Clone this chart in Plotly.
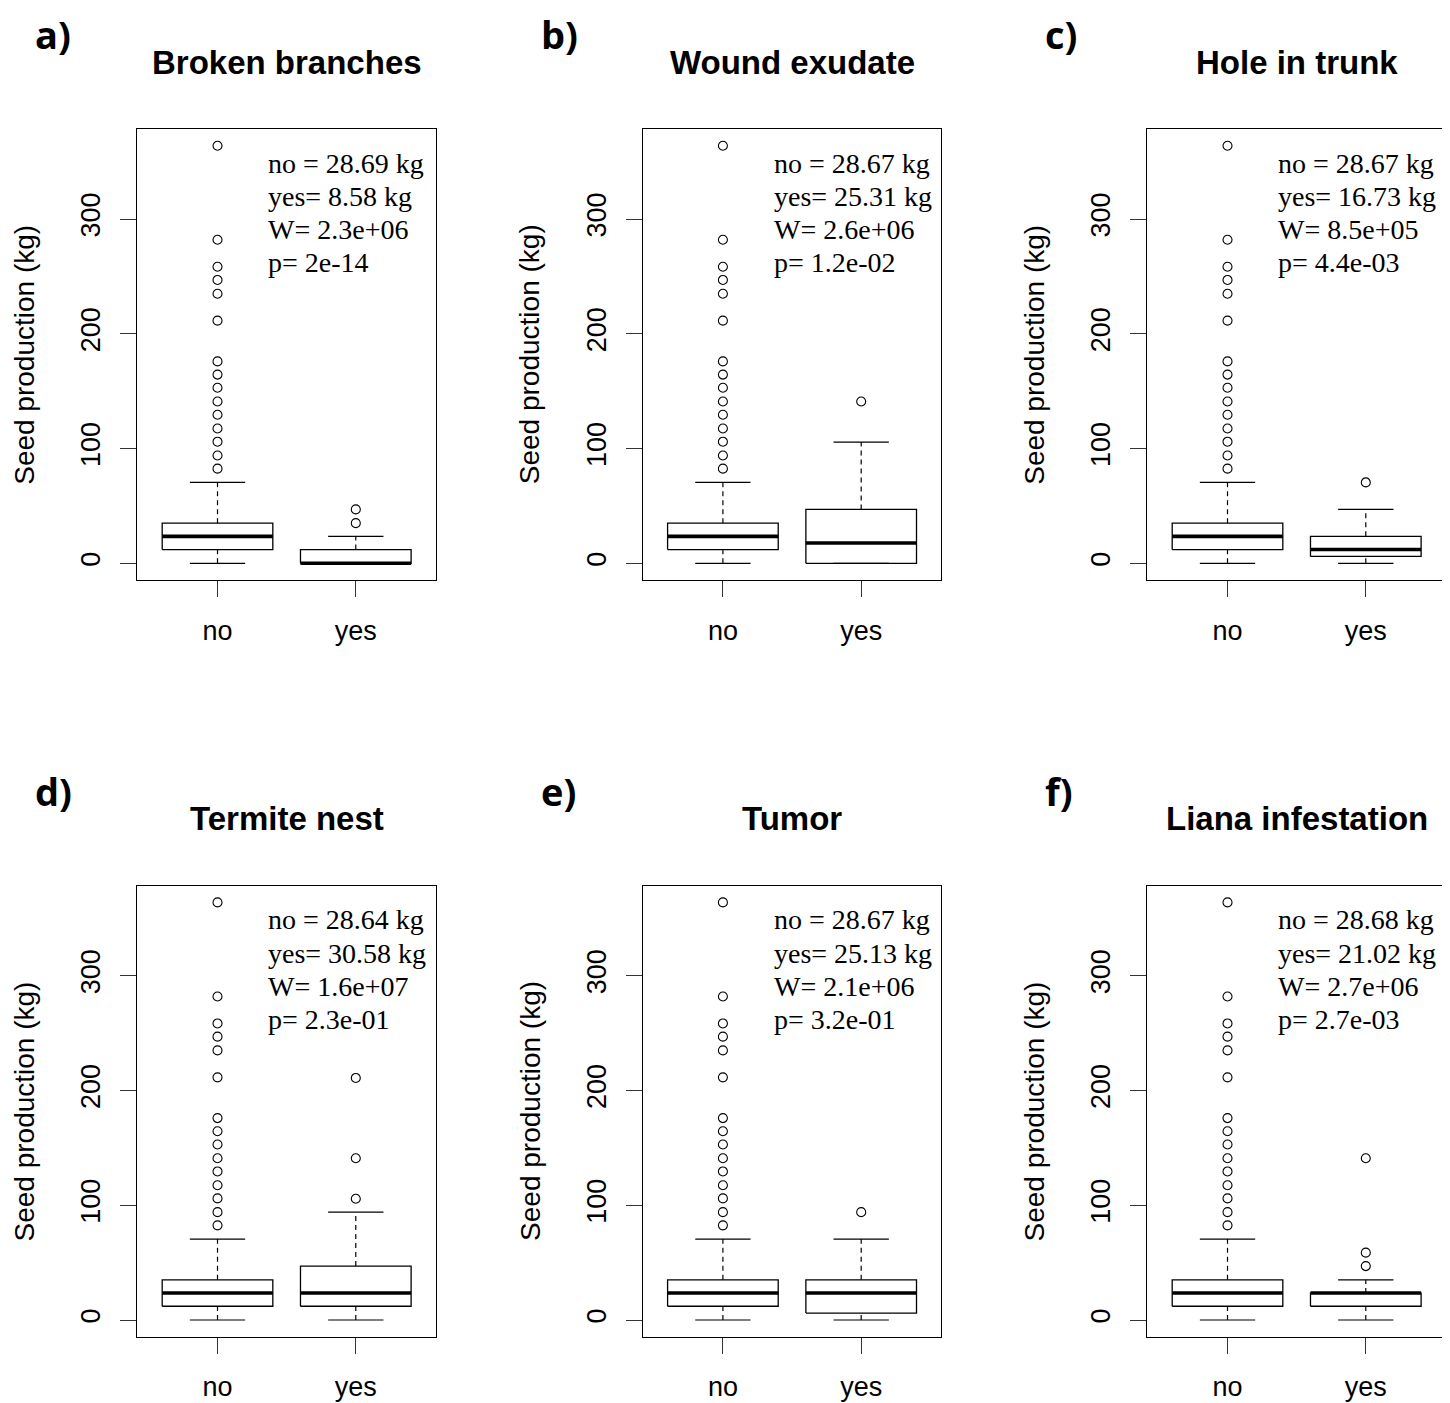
import plotly.graph_objects as go
from plotly.subplots import make_subplots

# ---------------- data ----------------
titles = ["Broken branches", "Wound exudate", "Hole in trunk",
          "Termite nest", "Tumor", "Liana infestation"]
letters = ["a)", "b)", "c)", "d)", "e)", "f)"]
groups = ["no", "yes"]

# "no" group (trees without the defect)
no_lower = [0, 0, 0, 0, 0, 0]
no_q1 = [12, 12, 12, 12, 12, 12]
no_median = [23.5, 23.5, 23.5, 23.5, 23.5, 23.5]
no_q3 = [35, 35, 35, 35, 35, 35]
no_upper = [70.5, 70.5, 70.5, 70.5, 70.5, 70.5]
no_outliers = [364, 282, 258.5, 247, 235, 211.5, 176, 164.5, 153,
               141, 129.5, 117.5, 106, 94, 82.5]

# "yes" group (trees with the defect)
yes_lower = [0, 0, 0, 0, 0, 0]
yes_q1 = [0, 0, 6, 12, 6, 12]
yes_median = [0, 17.7, 12, 23.5, 23.5, 23.5]
yes_q3 = [12, 47, 23.5, 47, 35, 23.5]
yes_upper = [23.5, 105.7, 47, 94, 70.5, 35]
yes_outliers = [[35, 47], [141], [70.5], [105.7, 141, 211],
                [94], [47, 58.7, 141]]

# statistics printed in each panel
mean_no = ["28.69", "28.67", "28.67", "28.64", "28.67", "28.68"]
mean_yes = ["8.58", "25.31", "16.73", "30.58", "25.13", "21.02"]
stat_W = ["2.3e+06", "2.6e+06", "8.5e+05", "1.6e+07", "2.1e+06", "2.7e+06"]
stat_p = ["2e-14", "1.2e-02", "4.4e-03", "2.3e-01", "3.2e-01", "2.7e-03"]

# ---------------- layout constants ----------------
W, H = 1450, 1403
OFF = 8                              # page margin of the html body
PLOT_W, PLOT_H = 298.7, 451.0        # pixel size of each panel frame
col_left = [137.3, 642.7, 1147.3]    # frame left edges (screen px)
row_top = [129.0, 885.7]             # frame top edges (screen px)
col_domains = [((l - OFF) / W, (l - OFF + PLOT_W) / W) for l in col_left]
row_domains = [(1 - (t - OFF + PLOT_H) / H, 1 - (t - OFF) / H) for t in row_top]

BOXW = 0.8      # R boxwex
CAPW = 0.4      # staple width
SANS = "Liberation Sans, Arial, sans-serif"
SERIF = "Liberation Serif, Times New Roman, serif"
BLACK = "#000000"

fig = make_subplots(rows=2, cols=3)


def box_traces(pos, lo, q1, med, q3, up, outs, row, col):
    h = BOXW / 2
    c = CAPW / 2
    # box outline
    fig.add_trace(go.Scatter(
        x=[pos - h, pos + h, pos + h, pos - h, pos - h],
        y=[q1, q1, q3, q3, q1], mode="lines",
        line=dict(color=BLACK, width=1.3), hoverinfo="skip",
        showlegend=False), row=row, col=col)
    # dashed whiskers
    fig.add_trace(go.Scatter(
        x=[pos, pos, None, pos, pos], y=[q3, up, None, lo, q1],
        mode="lines", line=dict(color=BLACK, width=1.2, dash="5px,4px"),
        hoverinfo="skip", showlegend=False), row=row, col=col)
    # staples
    fig.add_trace(go.Scatter(
        x=[pos - c, pos + c, None, pos - c, pos + c],
        y=[up, up, None, lo, lo], mode="lines",
        line=dict(color=BLACK, width=1.2), hoverinfo="skip",
        showlegend=False), row=row, col=col)
    # median
    fig.add_trace(go.Scatter(
        x=[pos - h, pos + h], y=[med, med], mode="lines",
        line=dict(color=BLACK, width=3.6), hoverinfo="skip",
        showlegend=False), row=row, col=col)
    # outliers
    if outs:
        fig.add_trace(go.Scatter(
            x=[pos] * len(outs), y=outs, mode="markers",
            marker=dict(symbol="circle-open", size=9,
                        color=BLACK, line=dict(width=1.1, color=BLACK)),
            hoverinfo="y", showlegend=False), row=row, col=col)


annotations = []
for i in range(6):
    r, cidx = i // 3, i % 3
    row, col = r + 1, cidx + 1
    box_traces(1, no_lower[i], no_q1[i], no_median[i], no_q3[i],
               no_upper[i], no_outliers, row, col)
    box_traces(2, yes_lower[i], yes_q1[i], yes_median[i], yes_q3[i],
               yes_upper[i], yes_outliers[i], row, col)

    all_vals = (no_outliers + yes_outliers[i] +
                [no_lower[i], yes_lower[i], no_upper[i], yes_upper[i]])
    lo, hi = min(all_vals), max(all_vals)
    span = hi - lo
    yr = [lo - 0.04 * span, hi + 0.04 * span]

    axn = "" if i == 0 else str(i + 1)
    fig.layout["xaxis" + axn].update(
        domain=col_domains[cidx], range=[0.42, 2.58],
        tickmode="array", tickvals=[1, 2], ticktext=groups,
        ticks="outside", ticklen=16, tickwidth=1, tickcolor="#333333",
        showline=True, mirror=True, linecolor=BLACK, linewidth=1.3,
        showgrid=False, zeroline=False,
        tickfont=dict(family=SANS, size=27, color=BLACK),
        ticklabelstandoff=10, fixedrange=True)
    fig.layout["yaxis" + axn].update(
        domain=row_domains[r], range=yr,
        tickmode="array", tickvals=[0, 100, 200, 300],
        ticks="outside", ticklen=16, tickwidth=1, tickcolor="#333333",
        tickangle=-90,
        showline=True, mirror=True, linecolor=BLACK, linewidth=1.3,
        showgrid=False, zeroline=False,
        tickfont=dict(family=SANS, size=27, color=BLACK),
        ticklabelstandoff=9, fixedrange=True)

    xd = "x" + axn + " domain"
    yd = "y" + axn + " domain"
    # panel title
    annotations.append(dict(
        text="<b>" + titles[i] + "</b>", xref=xd, yref=yd, x=0.5, y=1,
        xanchor="center", yanchor="middle", yshift=67, showarrow=False,
        font=dict(family=SANS, size=33, color=BLACK)))
    # panel letter
    annotations.append(dict(
        text="<b>" + letters[i] + "</b>", xref=xd, yref=yd, x=0, y=1,
        xanchor="left", yanchor="middle", xshift=-104, yshift=95,
        showarrow=False,
        font=dict(family="Open Sans, sans-serif", size=38, color=BLACK)))
    # y-axis title
    annotations.append(dict(
        text="Seed production (kg)", xref=xd, yref=yd, x=0, y=0.5,
        xanchor="center", yanchor="middle", xshift=-113, textangle=-90,
        showarrow=False, font=dict(family=SANS, size=28, color=BLACK)))
    # statistics block
    lines = ["no = " + mean_no[i] + " kg", "yes= " + mean_yes[i] + " kg",
             "W= " + stat_W[i], "p= " + stat_p[i]]
    for k, t in enumerate(lines):
        annotations.append(dict(
            text=t, xref=xd, yref=yd, x=0, y=1, xanchor="left",
            yanchor="middle", xshift=129, yshift=-(34 + 33.3 * k),
            showarrow=False,
            font=dict(family=SERIF, size=28, color=BLACK)))

fig.update_layout(
    width=W, height=H, margin=dict(l=0, r=0, t=0, b=0),
    paper_bgcolor="white", plot_bgcolor="white",
    showlegend=False, annotations=annotations)

fig.write_html("out.html")
